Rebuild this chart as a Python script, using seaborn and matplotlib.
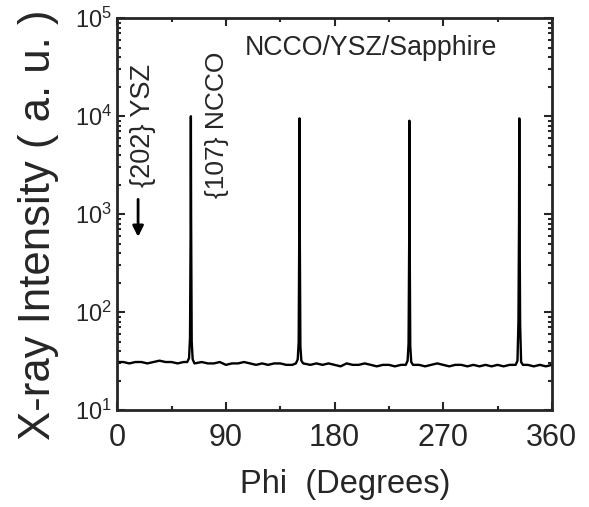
import numpy as np
import pandas as pd
import matplotlib
matplotlib.use("Agg")
import matplotlib.pyplot as plt
import seaborn as sns
from matplotlib.ticker import LogLocator, MultipleLocator

# baseline of the phi scan, read every 5 degrees
base_phi = [0, 5, 10, 15, 20, 25, 30, 35, 40, 45, 50, 55, 58,
            64, 70, 75, 80, 85, 90, 95, 100, 105, 110, 115, 120, 125, 130, 135, 140, 145, 148,
            154, 160, 165, 170, 175, 180, 185, 190, 195, 200, 205, 210, 215, 220, 225, 230, 235, 239,
            245, 250, 255, 260, 265, 270, 275, 280, 285, 290, 295, 300, 305, 310, 315, 320, 325, 330,
            336, 340, 345, 350, 355, 360]
base_counts = [31, 31, 30, 31, 31, 30, 31, 32, 31, 31, 30, 31, 31,
               30, 31, 30, 30, 31, 29, 30, 30, 31, 30, 29, 30, 29, 30, 30, 29, 29, 30,
               30, 29, 30, 29, 30, 29, 28, 30, 29, 29, 30, 29, 28, 29, 29, 28, 29, 29,
               29, 29, 28, 29, 30, 29, 28, 29, 29, 28, 29, 28, 29, 28, 29, 28, 29, 29,
               29, 29, 28, 29, 28, 29]

# points across the four {107} NCCO peaks
peak_phi = [59.5, 60.3, 60.8, 61.0, 61.2, 61.7, 62.5,
            149.5, 150.3, 150.8, 151.0, 151.2, 151.7, 152.5,
            240.5, 241.3, 241.8, 242.0, 242.2, 242.7, 243.5,
            331.5, 332.3, 332.8, 333.0, 333.2, 333.7, 334.5]
peak_counts = [34, 55, 700, 10000, 900, 50, 33,
               33, 50, 800, 9500, 700, 45, 32,
               32, 48, 500, 9000, 600, 45, 31,
               32, 80, 900, 9500, 1000, 75, 31]

df = pd.DataFrame({"phi": base_phi + peak_phi,
                   "counts": base_counts + peak_counts}).sort_values("phi")

sns.set_style("ticks")
plt.rcParams["font.family"] = ["Liberation Sans", "DejaVu Sans"]

fig = plt.figure(figsize=(5.89, 5.07), dpi=100)
ax = fig.add_axes([0.199, 0.191, 0.738, 0.773])

sns.lineplot(data=df, x="phi", y="counts", ax=ax, color="black",
             linewidth=1.7, estimator=None, sort=False)

ax.set_yscale("log")
ax.set_xlim(0, 360)
ax.set_ylim(10, 1e5)
ax.xaxis.set_major_locator(MultipleLocator(90))
ax.xaxis.set_minor_locator(MultipleLocator(45))
ax.yaxis.set_major_locator(LogLocator(base=10))
ax.yaxis.set_minor_locator(LogLocator(base=10, subs=np.arange(2, 10)))
ax.tick_params(which="both", direction="in", top=True, right=True, width=1.5)
ax.tick_params(which="major", length=6)
ax.tick_params(which="minor", length=3)
ax.tick_params(axis="x", labelsize=22, pad=9)
ax.tick_params(axis="y", labelsize=17)
for s in ax.spines.values():
    s.set_linewidth(2)
    s.set_visible(True)

ax.set_xlabel("Phi  (Degrees)", fontsize=23.5)
ax.xaxis.set_label_coords(0.524, -0.15)
ax.set_ylabel("X-ray Intensity ( a. u. )", fontsize=31.5)
ax.yaxis.set_label_coords(-0.135, 0.472)

ax.text(0.294, 0.925, "NCCO/YSZ/Sapphire", transform=ax.transAxes, fontsize=19.3,
        va="center")
ax.text(0.06, 0.569, "{202} YSZ", transform=ax.transAxes, rotation=90,
        fontsize=19.5, ha="center", va="bottom")
ax.text(0.23, 0.541, "{107} NCCO", transform=ax.transAxes, rotation=90,
        fontsize=19, ha="center", va="bottom")
ax.annotate("", xy=(0.048, 0.435), xytext=(0.048, 0.545), xycoords="axes fraction",
            arrowprops=dict(arrowstyle="-|>", color="black", lw=2, mutation_scale=16))

fig.savefig("out.png", dpi=100)
